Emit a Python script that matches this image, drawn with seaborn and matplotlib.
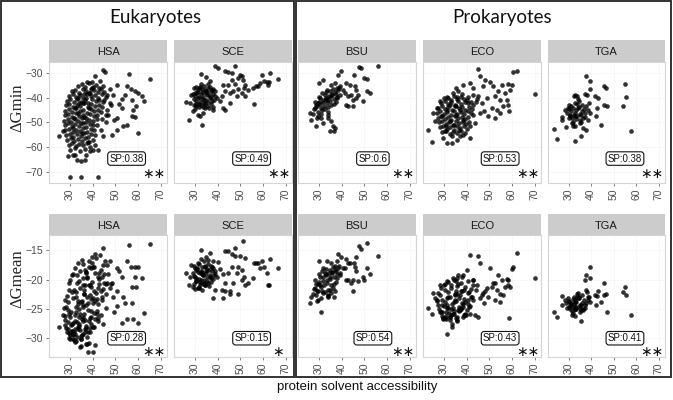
import matplotlib
matplotlib.use("Agg")
import matplotlib.pyplot as plt
import seaborn as sns
import pandas as pd
from matplotlib.patches import Rectangle

# ---------------- data ----------------
ORGS = ["HSA", "SCE", "BSU", "ECO", "TGA"]

HSA_SA = [65.4, 56.0, 50.6, 55.0, 56.9, 58.7, 60.1, 61.6, 62.6, 57.4,
          54.3, 52.8, 49.1, 47.6, 46.2, 46.9, 49.6, 50.6, 53.1, 53.5,
          50.6, 48.4, 57.4, 58.8, 60.1, 55.0, 59.0, 58.0, 30.0, 34.9,
          42.2, 38.1, 40.3, 32.2, 33.0, 35.1, 36.6, 38.8, 42.5, 37.1,
          31.5, 29.3, 41.0, 25.1, 27.1, 44.4, 41.0, 43.2, 39.6, 45.5,
          45.0, 46.5, 44.3, 47.5, 45.8, 43.6, 48.0, 44.8, 46.0, 51.8,
          33.5, 35.2, 36.8, 38.4, 40.1, 41.7, 43.0, 44.5, 37.5, 39.3,
          30.8, 32.4, 34.1, 35.9, 37.2, 38.8, 40.6, 42.3, 43.9, 45.2, 36.4, 39.7,
          29.5, 31.2, 32.9, 34.5, 36.0, 37.7, 39.2, 40.9, 42.5, 44.1, 45.8, 33.7, 38.4,
          28.6, 30.1, 31.8, 33.3, 35.0, 36.6, 38.2, 39.8, 41.4, 43.0, 44.6, 34.2, 37.1,
          28.2, 29.7, 31.4, 33.0, 34.6, 36.3, 37.9, 39.5, 41.1, 42.8, 44.0, 32.1, 35.7,
          28.0, 29.5, 31.0, 32.6, 34.3, 35.9, 37.6, 39.2, 40.8, 42.4, 43.6, 33.8, 38.5,
          27.8, 29.3, 30.9, 32.5, 34.0, 35.6, 37.3, 38.9, 40.5, 42.0, 31.7, 36.4,
          27.5, 29.1, 30.6, 32.2, 33.8, 35.4, 37.0, 38.6, 40.2, 41.8, 34.7,
          27.7, 29.2, 30.8, 32.4, 34.0, 35.6, 37.2, 38.8, 40.4, 42.0, 31.5,
          28.0, 29.6, 31.2, 32.8, 34.4, 36.0, 37.6, 39.2, 40.8, 35.2,
          28.3, 29.9, 31.5, 33.1, 34.7, 36.3, 37.9, 39.5, 41.2,
          28.8, 30.4, 32.0, 33.6, 35.2, 36.8, 38.4, 40.0,
          29.4, 31.0, 32.6, 34.2, 35.8, 37.4, 39.0,
          30.2, 32.3, 34.5, 36.6]
HSA_DGMIN = [-32.3, -30.5, -34.7, -35.4, -36.5, -37.4, -38.1, -39.4, -41.4, -40.7,
             -38.7, -40.5, -38.7, -42.1, -44.8, -46.8, -48.8, -48.2, -44.1, -51.5,
             -52.9, -54.9, -47.5, -47.8, -54.2, -50.9, -43.5, -45.0, -72.0, -72.0,
             -72.0, -58.0, -61.0, -63.0, -65.0, -65.7, -65.0, -61.6, -61.0, -63.0,
             -63.0, -63.6, -59.0, -55.6, -53.6, -28.7, -31.3, -33.0, -33.5, -29.5,
             -41.0, -39.0, -48.5, -36.5, -50.0, -53.0, -43.0, -55.5, -47.0, -42.5,
             -35.2, -34.6, -35.8, -34.1, -35.5, -34.8, -36.0, -35.1, -33.8, -36.3,
             -37.4, -36.8, -37.9, -36.5, -37.2, -38.0, -36.9, -37.6, -36.3, -37.8, -38.3, -36.1,
             -39.1, -38.5, -39.6, -38.8, -39.9, -38.3, -39.4, -38.9, -40.0, -38.6, -39.5, -40.2, -38.1,
             -41.2, -40.6, -41.8, -40.3, -41.5, -40.9, -42.0, -40.4, -41.3, -40.7, -41.9, -42.2, -40.1,
             -43.0, -42.4, -43.7, -42.8, -43.4, -42.1, -43.9, -42.6, -43.2, -42.9, -43.6, -44.1, -42.3,
             -45.2, -44.5, -45.8, -44.3, -45.5, -44.9, -46.0, -44.6, -45.3, -44.8, -45.7, -46.2, -44.2,
             -47.1, -46.5, -47.7, -46.3, -47.4, -46.8, -48.0, -46.6, -47.2, -46.9, -48.2, -47.9,
             -49.2, -48.4, -49.7, -48.6, -49.5, -48.2, -49.9, -48.8, -49.3, -48.5, -50.1,
             -51.0, -50.4, -51.6, -50.8, -51.3, -50.2, -51.8, -50.6, -51.2, -50.9, -52.1,
             -53.1, -52.5, -53.7, -52.9, -53.4, -52.3, -53.9, -52.7, -53.2, -54.1,
             -55.1, -54.5, -55.7, -54.8, -55.4, -54.3, -55.9, -54.6, -55.2,
             -57.0, -56.4, -57.6, -56.7, -57.3, -56.2, -57.8, -56.9,
             -59.0, -58.4, -59.6, -58.7, -59.3, -58.2, -59.8,
             -61.0, -60.5, -61.5, -60.8]
HSA_DGMEAN = [-13.9, -14.1, -18.1, -16.9, -17.8, -17.8, -17.8, -19.8, -25.7, -21.2,
              -24.0, -19.5, -22.9, -21.5, -20.5, -19.0, -25.5, -22.0, -27.4, -22.9,
              -24.5, -20.5, -24.0, -19.5, -27.4, -26.8, -21.2, -26.8, -29.5, -31.4,
              -27.0, -32.3, -32.3, -30.6, -29.8, -30.2, -28.5, -29.0, -26.5, -31.0,
              -29.2, -28.4, -31.1, -28.0, -26.0, -14.7, -15.6, -15.8, -16.2, -16.8,
              -19.0, -17.5, -23.5, -16.8, -24.8, -26.0, -20.8, -27.5, -22.5, -18.6,
              -17.2, -16.6, -18.4, -16.9, -17.8, -16.4, -18.9, -17.5, -19.6, -18.0,
              -19.3, -18.1, -20.2, -17.4, -18.8, -21.0, -17.9, -19.5, -18.3, -20.6, -22.4, -17.2,
              -20.5, -19.0, -22.1, -18.6, -20.9, -19.8, -23.3, -18.9, -21.4, -19.6, -20.8, -24.1, -17.9,
              -22.8, -20.1, -21.7, -19.3, -23.9, -21.0, -25.2, -20.4, -22.3, -19.9, -21.6, -26.3, -18.7,
              -24.6, -21.8, -23.1, -20.6, -25.8, -22.4, -24.0, -21.2, -23.6, -20.7, -22.9, -27.1, -19.8,
              -23.5, -25.9, -22.2, -24.7, -21.5, -26.4, -23.0, -25.3, -22.0, -24.2, -21.9, -28.0, -20.9,
              -26.2, -23.8, -27.5, -22.9, -25.1, -24.4, -27.9, -22.6, -25.7, -23.3, -29.0, -21.8,
              -24.9, -27.3, -25.6, -28.4, -23.7, -26.8, -24.3, -27.0, -23.1, -25.4, -29.6,
              -27.7, -25.2, -28.8, -26.1, -27.9, -24.6, -28.2, -26.5, -24.0, -25.8, -30.2,
              -26.9, -29.1, -27.4, -25.5, -28.6, -27.1, -29.8, -26.3, -28.0, -23.6,
              -28.3, -26.4, -29.5, -27.2, -30.1, -25.9, -28.9, -27.6, -26.7,
              -29.0, -27.8, -30.3, -28.5, -29.4, -26.9, -30.8, -28.1,
              -29.9, -28.7, -30.4, -27.6, -29.2, -30.9, -28.3,
              -30.1, -29.3, -31.5, -28.9]

SCE_SA = [38.8, 40.0, 47.6, 43.2, 44.7, 46.2, 32.9, 49.9, 49.1, 50.6,
          51.4, 59.4, 63.1, 66.5, 60.4, 61.6, 62.3, 58.7, 57.0, 55.7,
          57.9, 52.2, 51.5, 47.6, 46.2, 44.7, 45.4, 46.9, 48.4, 50.6,
          52.1, 42.5, 43.2, 41.8, 41.0, 45.4, 42.5, 43.2, 56.0, 38.8,
          39.6, 26.3, 27.8, 27.5, 29.0, 31.5, 32.2, 33.0, 33.7, 34.4,
          30.7, 38.1, 48.8, 53.5, 62.6, 36.5, 35.0, 28.5,
          29.5, 30.6, 31.4, 32.3, 33.1, 34.0, 34.9, 35.8, 36.7, 37.6, 30.2, 32.8,
          29.1, 30.0, 30.9, 31.8, 32.7, 33.6, 34.5, 35.4, 36.3, 37.2, 38.1, 39.0,
          29.4, 30.3, 31.2, 32.1, 33.0, 33.9, 34.8, 35.7, 36.6, 37.5, 31.6, 34.2,
          29.8, 30.7, 31.6, 32.5, 33.4, 34.3, 35.2, 36.1, 37.0, 38.2,
          31.0, 32.0, 33.3, 34.6, 35.5, 36.9, 37.9, 38.6, 30.0, 35.9]
SCE_DGMIN = [-27.3, -28.0, -27.0, -29.3, -29.7, -30.0, -30.3, -30.7, -32.0, -31.3,
             -32.7, -30.7, -30.0, -32.3, -33.0, -33.8, -34.7, -34.0, -35.1, -36.1,
             -35.4, -34.7, -36.0, -34.3, -32.7, -34.7, -38.1, -37.4, -39.4, -38.1,
             -39.4, -34.7, -37.4, -39.4, -41.4, -42.1, -44.1, -44.8, -42.4, -37.4,
             -40.1, -41.8, -42.1, -48.8, -45.5, -46.8, -47.5, -51.1, -46.1, -44.1,
             -43.5, -45.0, -36.5, -37.0, -33.5, -33.0, -31.5, -39.0,
             -36.2, -35.5, -37.0, -35.8, -36.6, -35.2, -37.3, -36.0, -35.7, -36.9, -38.1, -34.6,
             -38.6, -39.2, -38.0, -39.5, -38.4, -39.8, -38.2, -39.0, -38.7, -39.6, -38.3, -39.1,
             -40.5, -41.2, -40.1, -41.6, -40.4, -41.0, -40.7, -41.8, -40.2, -41.3, -42.6, -42.3,
             -43.0, -42.4, -43.6, -42.9, -43.9, -42.7, -43.3, -44.0, -42.5, -43.6,
             -37.6, -36.1, -37.8, -36.9, -37.5, -37.1, -36.4, -40.8, -44.5, -34.3]
SCE_DGMEAN = [-18.5, -17.0, -14.7, -15.2, -15.2, -15.6, -14.9, -16.0, -17.8, -18.4,
              -13.4, -16.9, -16.5, -18.0, -17.8, -18.8, -21.0, -18.1, -17.2, -19.8,
              -17.2, -16.4, -19.5, -16.0, -17.8, -18.9, -22.0, -20.6, -18.9, -20.1,
              -20.9, -19.0, -22.0, -21.8, -18.2, -22.4, -23.2, -20.5, -17.2, -21.8,
              -19.6, -18.8, -19.5, -20.9, -21.2, -21.5, -20.4, -21.8, -20.7, -21.0,
              -20.2, -23.2, -22.4, -20.6, -21.0, -15.5, -16.2, -17.5,
              -17.6, -18.3, -17.1, -18.9, -17.8, -16.8, -18.5, -17.4, -19.2, -17.9, -18.0, -16.5,
              -18.8, -19.5, -18.2, -19.9, -18.6, -19.3, -17.9, -20.2, -18.4, -19.7, -18.1, -19.0,
              -19.4, -20.3, -18.7, -20.8, -19.1, -20.0, -18.9, -20.5, -19.6, -18.5, -21.2, -20.6,
              -20.7, -19.8, -21.4, -20.1, -19.2, -20.9, -19.6, -21.1, -20.4, -19.9,
              -18.1, -17.4, -18.7, -17.6, -18.2, -17.7, -16.9, -19.3, -21.6, -16.7]

BSU_SA = [56.0, 47.6, 48.7, 39.9, 38.4, 45.4, 49.7, 51.3, 42.1, 43.5,
          45.7, 46.5, 51.0, 52.5, 47.2, 44.3, 45.0, 49.4, 46.5, 42.8,
          29.9, 31.8, 35.4, 36.9, 39.1, 40.6, 42.8, 45.0, 41.8, 26.3,
          26.6, 28.8, 31.0, 31.8, 34.0, 35.4, 36.2, 36.6, 35.1, 36.9,
          33.7, 41.3, 28.1, 29.6, 38.0, 33.0,
          28.0, 28.8, 29.5, 30.2, 30.9, 31.6, 32.3, 33.0, 33.7, 34.4, 35.1, 35.8,
          36.5, 37.2, 37.9, 38.6, 29.0, 30.5, 32.0, 33.5, 35.0, 36.0, 37.5, 34.2,
          27.6, 29.8, 31.2, 32.7, 34.0, 35.4, 36.8, 38.2, 30.0, 31.5, 33.2, 39.5,
          28.5, 30.6, 32.5, 34.8, 36.3, 37.7, 39.0, 31.0, 33.8, 29.2]
BSU_DGMIN = [-27.0, -27.6, -28.0, -29.3, -30.7, -30.7, -32.0, -32.4, -34.0, -34.7,
             -35.4, -36.7, -37.4, -38.1, -38.7, -38.7, -40.8, -41.4, -40.1, -39.4,
             -34.0, -32.7, -34.7, -34.0, -35.4, -36.7, -43.5, -43.5, -42.8, -46.2,
             -48.8, -51.5, -48.2, -50.2, -48.2, -49.5, -51.5, -53.3, -53.6, -52.2,
             -37.0, -38.0, -44.0, -42.0, -36.0, -40.5,
             -44.5, -42.8, -45.6, -41.9, -44.0, -40.8, -43.2, -39.9, -42.1, -39.2, -41.3, -38.6,
             -40.5, -37.8, -39.6, -37.0, -43.5, -42.6, -41.7, -40.8, -39.8, -38.9, -38.3, -43.8,
             -46.5, -47.2, -45.0, -44.6, -45.8, -43.0, -42.4, -40.2, -39.5, -38.2, -37.6, -38.9,
             -41.5, -40.0, -39.0, -37.2, -36.5, -41.8, -36.0, -46.5, -47.0, -48.0]
BSU_DGMEAN = [-16.0, -14.2, -14.8, -16.1, -15.6, -17.2, -20.1, -13.7, -16.5, -17.2,
              -17.8, -16.1, -18.1, -19.0, -20.3, -20.6, -21.9, -19.5, -18.6, -17.2,
              -16.9, -18.0, -17.2, -17.7, -19.2, -18.1, -20.1, -20.1, -20.1, -24.0,
              -22.9, -22.6, -25.6, -22.3, -22.6, -22.3, -21.5, -23.0, -21.8, -22.0,
              -16.9, -18.1, -21.5, -20.8, -16.8, -19.0,
              -21.6, -20.8, -22.0, -20.4, -21.2, -19.6, -20.9, -19.3, -20.5, -18.8, -19.9, -18.7,
              -19.6, -18.4, -19.1, -18.0, -21.9, -21.0, -20.2, -20.0, -19.5, -18.9, -18.6, -21.7,
              -22.5, -23.4, -21.9, -22.1, -22.8, -21.0, -20.7, -19.8, -19.0, -18.5, -18.2, -18.9,
              -20.0, -19.5, -18.9, -18.4, -17.9, -20.4, -17.6, -23.1, -22.9, -23.7]

ECO_SA = [45.1, 60.3, 62.4, 70.1, 45.9, 48.1, 50.3, 41.5, 38.5, 42.9,
          47.4, 51.8, 55.4, 58.4, 59.9, 59.1, 56.9, 53.9, 52.5, 54.7,
          57.6, 58.4, 56.2, 53.5, 51.0, 54.7, 52.5, 49.6, 47.8, 46.6,
          48.8, 45.1, 45.9, 58.8, 43.7, 41.5, 41.5, 38.5, 37.1, 35.6,
          33.4, 31.2, 29.7, 24.6, 23.1, 25.3, 26.8, 28.2, 32.0, 34.1,
          36.3, 35.3, 40.0, 36.0, 44.4, 42.9,
          28.9, 30.4, 31.9, 33.3, 34.8, 36.2, 37.7, 39.1, 40.6, 42.0, 32.6, 35.5,
          27.5, 29.0, 30.5, 32.0, 33.5, 35.0, 36.5, 38.0, 39.5, 41.0, 42.5, 31.2, 37.2,
          27.0, 28.5, 30.0, 31.5, 33.0, 34.5, 36.0, 37.5, 39.0, 40.5, 42.0, 29.2, 35.2,
          27.3, 28.8, 30.3, 31.8, 33.3, 34.8, 36.3, 37.8, 39.3, 40.8, 32.5, 38.6, 26.0,
          27.8, 29.3, 30.8, 32.3, 33.8, 35.3, 36.8, 38.3, 39.8, 41.2, 31.0, 34.5,
          28.3, 29.8, 31.3, 32.8, 34.3, 35.8, 37.3, 38.8, 40.2, 30.5, 36.5,
          29.0, 30.8, 32.5, 34.2, 36.0, 37.6, 39.4, 33.4,
          30.0, 31.5, 33.0, 34.5, 36.0, 37.5, 39.0, 40.5, 38.0, 43.0, 44.0, 42.8]
ECO_DGMIN = [-28.4, -29.7, -29.3, -38.3, -31.3, -32.7, -33.4, -34.0, -34.7, -36.0,
             -35.4, -35.4, -34.7, -34.3, -34.7, -36.7, -38.1, -37.4, -39.4, -40.8,
             -40.8, -42.8, -43.5, -44.8, -44.1, -46.2, -48.2, -47.5, -45.5, -42.1,
             -40.1, -39.4, -46.2, -45.5, -50.2, -51.5, -56.2, -54.9, -55.6, -56.9,
             -58.3, -58.3, -56.2, -58.0, -53.1, -46.2, -44.1, -41.4, -40.1, -38.1,
             -37.4, -36.1, -41.0, -39.5, -40.5, -43.0,
             -42.0, -41.3, -42.6, -41.8, -42.9, -41.1, -42.4, -41.6, -42.2, -41.9, -43.1, -43.4,
             -44.0, -43.4, -44.6, -43.8, -44.9, -43.2, -44.3, -43.7, -44.8, -43.6, -44.4, -45.1, -45.0,
             -46.1, -45.5, -46.7, -45.8, -46.9, -45.2, -46.4, -45.7, -46.6, -45.4, -46.2, -47.2, -47.0,
             -48.0, -47.4, -48.6, -47.7, -48.9, -47.2, -48.3, -47.6, -48.5, -47.9, -49.2, -49.0, -49.5,
             -50.0, -49.4, -50.6, -49.7, -50.9, -49.3, -50.3, -49.6, -50.5, -49.8, -51.3, -51.1,
             -52.0, -51.4, -52.6, -51.7, -52.9, -51.3, -52.3, -51.6, -52.5, -53.3, -53.1,
             -54.0, -53.4, -54.6, -53.7, -54.3, -53.5, -54.1, -55.3,
             -40.2, -39.6, -40.8, -39.3, -40.5, -39.8, -40.6, -39.5, -38.5, -38.8, -41.5, -47.0]
ECO_DGMEAN = [-15.9, -17.9, -15.5, -19.8, -17.1, -22.0, -18.1, -15.8, -19.2, -20.1,
              -22.3, -20.6, -20.1, -20.1, -18.2, -21.3, -21.2, -19.2, -20.6, -23.8,
              -19.9, -21.0, -22.6, -21.8, -21.2, -22.4, -23.5, -22.9, -24.0, -22.6,
              -21.5, -26.3, -23.2, -26.6, -26.0, -24.5, -25.8, -26.4, -25.2, -27.0,
              -28.0, -29.3, -26.5, -25.9, -24.9, -22.3, -23.5, -21.0, -20.4, -19.8,
              -19.2, -20.3, -18.4, -19.8, -20.9, -20.1,
              -21.4, -20.8, -22.1, -21.0, -22.6, -20.7, -21.9, -21.2, -22.3, -21.6, -23.0, -22.0,
              -22.3, -23.4, -21.8, -22.9, -24.1, -22.5, -23.2, -21.9, -23.8, -22.2, -23.0, -24.4, -22.7,
              -23.6, -22.7, -24.5, -23.1, -25.0, -23.9, -22.4, -24.8, -23.3, -24.2, -22.9, -25.6, -23.7,
              -24.3, -25.5, -23.8, -24.9, -26.1, -23.5, -25.2, -24.0, -25.8, -23.4, -26.4, -24.6, -23.2,
              -25.1, -24.4, -26.2, -25.7, -24.8, -26.5, -25.3, -24.2, -26.0, -24.7, -26.8, -25.9,
              -25.6, -26.7, -24.9, -26.3, -25.4, -26.9, -25.0, -26.1, -25.2, -26.6, -24.7,
              -26.2, -25.5, -26.9, -25.8, -26.4, -25.1, -26.0, -27.5,
              -20.9, -20.2, -21.5, -20.0, -21.1, -20.5, -21.8, -20.3, -19.6, -21.0, -21.7, -23.5]

TGA_SA = [37.6, 39.6, 55.0, 45.9, 46.6, 55.3, 37.1, 38.1, 41.5, 42.9,
          39.6, 45.6, 47.1, 54.1, 57.6, 44.4, 42.1, 38.5, 37.6, 32.9,
          24.9, 23.4, 26.8, 27.1, 30.0, 32.2, 33.7, 34.4, 32.6, 31.2,
          28.2, 29.3, 30.7, 34.9, 35.6, 36.2, 32.9, 31.8, 28.8, 38.5,
          39.6, 37.6, 38.8, 42.5,
          30.2, 31.0, 31.8, 32.6, 33.4, 34.2, 35.0, 35.8, 36.6, 37.4, 33.0, 34.6,
          30.5, 31.4, 32.2, 33.1, 33.9, 34.8, 35.6, 36.4, 37.3, 32.0, 35.3, 31.6,
          33.6, 36.0, 34.0, 32.8, 30.0, 29.5]
TGA_DGMIN = [-31.3, -33.0, -34.3, -35.4, -36.1, -39.8, -38.3, -38.7, -39.4, -40.1,
             -36.5, -42.8, -43.2, -43.2, -53.6, -51.1, -47.5, -49.1, -52.9, -57.3,
             -56.5, -52.6, -47.9, -49.1, -48.2, -39.2, -39.4, -41.4, -42.1, -43.5,
             -44.8, -46.2, -46.8, -50.2, -55.3, -52.2, -51.5, -51.5, -51.9, -44.8,
             -46.2, -43.5, -42.1, -44.1,
             -44.6, -45.4, -44.0, -46.1, -45.0, -44.3, -46.5, -45.2, -44.7, -46.0, -47.3, -43.8,
             -47.2, -48.0, -46.8, -48.6, -47.5, -48.9, -47.0, -48.3, -47.7, -49.6, -49.8, -50.4,
             -42.5, -42.8, -40.6, -38.8, -42.9, -44.0]
TGA_DGMEAN = [-19.2, -17.9, -21.2, -20.5, -22.4, -22.7, -20.1, -22.2, -22.6, -22.0,
              -19.8, -22.6, -25.6, -22.2, -26.1, -23.8, -24.3, -22.9, -24.0, -26.2,
              -26.3, -25.5, -22.8, -24.3, -24.6, -23.0, -22.5, -23.2, -23.8, -24.0,
              -23.5, -24.8, -25.1, -24.4, -27.0, -25.2, -25.0, -24.7, -24.0, -23.4,
              -23.9, -21.8, -22.9, -22.8,
              -23.6, -24.2, -23.3, -24.6, -23.9, -23.1, -24.8, -24.0, -23.5, -24.3, -25.0, -22.9,
              -24.5, -25.3, -24.1, -25.0, -24.6, -25.5, -24.3, -25.1, -24.8, -25.7, -25.2, -26.0,
              -23.0, -22.7, -22.3, -23.5, -23.8, -23.1]

SP_MIN = ["SP:0.38", "SP:0.49", "SP:0.6", "SP:0.53", "SP:0.38"]
SIG_MIN = ["**", "**", "**", "**", "**"]
SP_MEAN = ["SP:0.28", "SP:0.15", "SP:0.54", "SP:0.43", "SP:0.41"]
SIG_MEAN = ["**", "*", "**", "**", "**"]
X_TICKS = [30, 40, 50, 60, 70]
YMIN_TICKS = [-30, -40, -50, -60, -70]
YMEAN_TICKS = [-15, -20, -25, -30]

# ---------------- build long table ----------------
frames = []
for org, sa, mn, me in [("HSA", HSA_SA, HSA_DGMIN, HSA_DGMEAN),
                        ("SCE", SCE_SA, SCE_DGMIN, SCE_DGMEAN),
                        ("BSU", BSU_SA, BSU_DGMIN, BSU_DGMEAN),
                        ("ECO", ECO_SA, ECO_DGMIN, ECO_DGMEAN),
                        ("TGA", TGA_SA, TGA_DGMIN, TGA_DGMEAN)]:
    frames.append(pd.DataFrame({"org": org, "sa": sa, "dgmin": mn, "dgmean": me}))
df = pd.concat(frames, ignore_index=True)

# ---------------- figure ----------------
sns.set_theme(style="white")
plt.rcParams['font.family'] = ['Liberation Sans', 'DejaVu Sans']

W, H = 673, 400
fig = plt.figure(figsize=(W / 100, H / 100), dpi=100)


def add_px(x0, y0, x1, y1):
    return fig.add_axes([x0 / W, 1 - y1 / H, (x1 - x0) / W, (y1 - y0) / H])


cols = [(49, 167), (174, 292), (298, 416), (423, 541), (548, 665)]
rows = [
    dict(strip=(40, 62), panel=(62, 183), ylim=(-74.5, -25.5), yticks=YMIN_TICKS,
         key="dgmin", sp=SP_MIN, sig=SIG_MIN, sp_y=-64.6, sig_y=-71.0),
    dict(strip=(214, 235), panel=(235, 357), ylim=(-33.2, -12.4), yticks=YMEAN_TICKS,
         key="dgmean", sp=SP_MEAN, sig=SIG_MEAN, sp_y=-30.0, sig_y=-32.3),
]
sp_x = [55, 55, 53.8, 54.8, 55]

for r in rows:
    for i, org in enumerate(ORGS):
        x0, x1 = cols[i]
        s0, s1 = r["strip"]
        sax = add_px(x0, s0, x1, s1)
        sax.set_facecolor("#cccccc")
        for sp in sax.spines.values():
            sp.set_visible(False)
        sax.set_xticks([]); sax.set_yticks([])
        sax.text(0.5, 0.45, org, ha="center", va="center", fontsize=8,
                 color="#1a1a1a", transform=sax.transAxes)

        p0, p1 = r["panel"]
        ax = add_px(x0, p0, x1, p1)
        sub = df[df["org"] == org]
        sns.scatterplot(data=sub, x="sa", y=r["key"], ax=ax, color="black",
                        alpha=0.8, s=11, linewidth=0, legend=False)
        ax.set_xlim(20.8, 72.8)
        ax.set_ylim(*r["ylim"])
        ax.set_xticks(X_TICKS)
        ax.set_yticks(r["yticks"])
        ax.grid(True, color="#f6f6f6", lw=0.6)
        ax.set_axisbelow(True)
        for sp in ax.spines.values():
            sp.set_color("#d4d4d4"); sp.set_linewidth(0.8)
        ax.set_xlabel(""); ax.set_ylabel("")
        ax.tick_params(axis="x", length=2.5, width=0.6, color="#666666", labelsize=7.5,
                       labelcolor="#4d4d4d", labelrotation=90, pad=1.5, bottom=True)
        if i == 0:
            ax.tick_params(axis="y", length=2.5, width=0.6, color="#666666", labelsize=7.5,
                           labelcolor="#4d4d4d", pad=1.5, left=True)
        else:
            ax.tick_params(axis="y", left=False, labelleft=False)
        ax.text(sp_x[i], r["sp_y"], r["sp"][i], ha="center", va="center", fontsize=7,
                color="#111111",
                bbox=dict(boxstyle="round,pad=0.18,rounding_size=0.3", fc="white",
                          ec="#111111", lw=0.8))
        ax.text(66.8, r["sig_y"], "\u2217" * len(r["sig"][i]), ha="center", va="center",
                fontsize=10, color="#111111", family=["DejaVu Sans"])

# axis titles
fig.text(17 / W, 1 - 108 / H, "\u0394Gmin", rotation=90, ha="center", va="center",
         fontsize=12, family=["Liberation Serif", "DejaVu Serif"])
fig.text(17 / W, 1 - 279 / H, "\u0394Gmean", rotation=90, ha="center", va="center",
         fontsize=12, family=["Liberation Serif", "DejaVu Serif"])
fig.text(357 / W, 1 - 387 / H, "protein solvent accessibility", ha="center", va="center",
         fontsize=9.5, color="#111111")
fig.text(155 / W, 1 - 18 / H, "Eukaryotes", ha="center", va="center", fontsize=13.5,
         family=["Lato", "DejaVu Sans"], color="#111111")
fig.text(502 / W, 1 - 18 / H, "Prokaryotes", ha="center", va="center", fontsize=13.5,
         family=["Lato", "DejaVu Sans"], color="#111111")

# group frames
fig.add_artist(Rectangle((1 / W, 1 - 377 / H), 293 / W, 376 / H, transform=fig.transFigure,
                         fill=False, ec="#333333", lw=1.4))
fig.add_artist(Rectangle((296 / W, 1 - 377 / H), 375 / W, 376 / H, transform=fig.transFigure,
                         fill=False, ec="#333333", lw=1.4))

fig.savefig("out.png", dpi=100)
